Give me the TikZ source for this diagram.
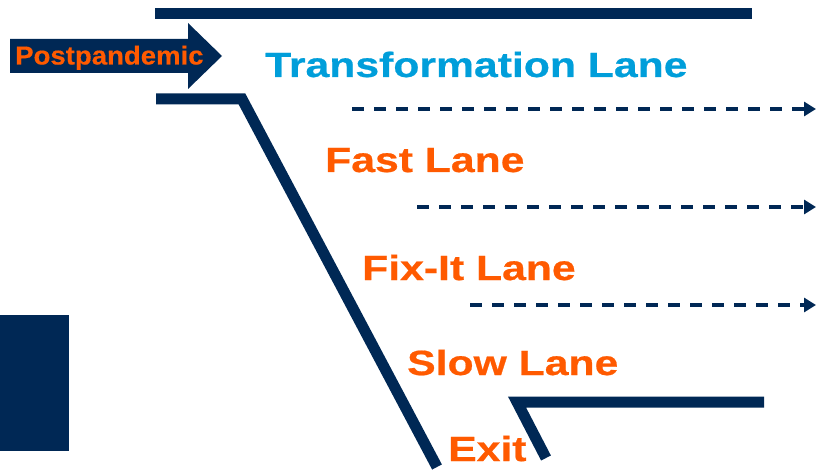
\documentclass[tikz,border=0pt]{standalone}
\usepackage{fontspec}
\setmainfont{Liberation Sans}
\newfontfamily\lanefont[FakeStretch=1.22, FakeBold=0.6]{Liberation Sans}
\newfontfamily\tagfont[FakeStretch=1.06, FakeBold=0.4]{Liberation Sans}
\usepackage{xcolor}
\usepackage{tikz}
\usetikzlibrary{arrows.meta, positioning}

\definecolor{roadnavy}{RGB}{0,40,85}
\definecolor{laneorange}{RGB}{255,90,0}
\definecolor{laneblue}{RGB}{0,158,218}

\begin{document}
\begin{tikzpicture}[
    x=1pt, y=-1pt,
    road/.style={draw=roadnavy, line width=11pt, line join=miter},
    lane/.style={anchor=base west, inner sep=0pt, text=laneorange,
                 font=\lanefont\bfseries\fontsize{35}{40}\selectfont},
    flow/.style={draw=roadnavy, line width=3.5pt, dash pattern=on 12pt off 10pt,
                 -{Triangle[length=12pt, width=14pt]}},
]
    \useasboundingbox (0,0) rectangle (820,476);

    % road edges
    \draw[road] (155,14) -- (752,14);
    \draw[road] (156,99) -- (242,99) -- (437,467);
    \draw[road] (764,402) -- (517,402) -- (546,458);
    \fill[roadnavy] (0,315) rectangle (69,451);

    % entry arrow
    \fill[roadnavy] (10,39) -- (188,39) -- (188,23) -- (222,56)
        -- (188,89) -- (188,73) -- (10,73) -- cycle;
    \node[anchor=base west, inner sep=0pt, text=laneorange,
          font=\tagfont\bfseries\fontsize{26}{30}\selectfont] (post) at (15,64.5) {Postpandemic};

    % lanes
    \node[lane, text=laneblue] (transform) at (265,77) {Transformation Lane};
    \node[lane] (fast) at (325,172) {Fast Lane};
    \node[lane] (fixit) at (362,280) {Fix-It Lane};
    \node[lane] (slow) at (407,375) {Slow Lane};
    \node[lane] (exit) at (448,461) {Exit};

    \coordinate (transform from) at (352,109);
    \coordinate (transform to) at (816,109);
    \coordinate (fast from) at (417,207);
    \coordinate (fast to) at (816,207);
    \coordinate (fixit from) at (470,305);
    \coordinate (fixit to) at (816,305);

    \draw[flow] (transform from) -- (transform to);
    \draw[flow] (fast from) -- (fast to);
    \draw[flow] (fixit from) -- (fixit to);
\end{tikzpicture}
\end{document}
